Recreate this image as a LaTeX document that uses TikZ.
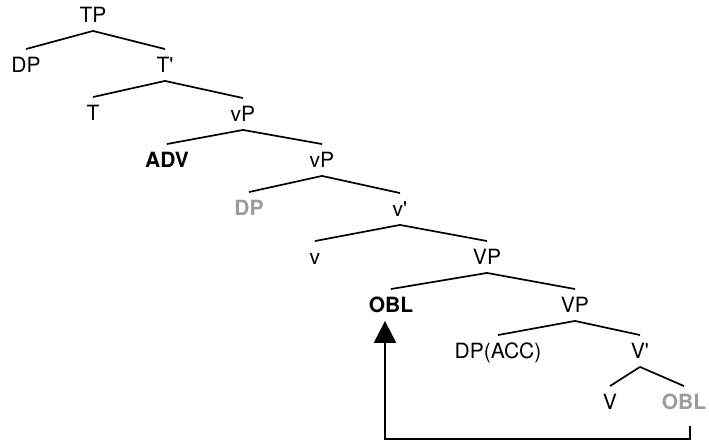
\documentclass[tikz,border=0pt]{standalone}
\usepackage{fontspec}
\setmainfont{TeX Gyre Heros}
\usetikzlibrary{arrows.meta}
\definecolor{trace}{HTML}{9C9C9C}

\begin{document}
\begin{tikzpicture}[x=0.5pt,y=-0.5pt,line width=0.85pt,
  main node/.style={font=\fontsize{10.5}{12}\selectfont,text height=7.5pt,text depth=0pt,inner sep=3.8pt},
  bold node/.style={main node,font=\fontsize{10.5}{12}\selectfont\bfseries},
  trace node/.style={bold node,text=trace}]

  \useasboundingbox (0,0) rectangle (709,442);

  \node[main node] (1) at (93,15) {TP};
  \node[main node] (2) at (26,65) {DP};
  \node[main node] (3) at (165,65) {T\textquotesingle};
  \node[main node] (4) at (93,113) {T};
  \node[main node] (5) at (243,114) {vP};
  \node[bold node] (6) at (167,160) {ADV};
  \node[main node] (7) at (322,160) {vP};
  \node[trace node] (8) at (249,208) {DP};
  \node[main node] (9) at (400,209) {v\textquotesingle};
  \node[main node] (10) at (315,257) {v};
  \node[main node] (11) at (487,257) {VP};
  \node[bold node] (12) at (391,305) {OBL};
  \node[main node] (13) at (575,305) {VP};
  \node[main node] (14) at (498,351) {DP(ACC)};
  \node[main node] (15) at (640,351) {V\textquotesingle};
  \node[main node] (16) at (610,402) {V};
  \node[trace node] (17) at (684,402) {OBL};

  \path
    (1.south) edge (2.north)
    (1.south) edge (3.north)
    (3.south) edge (4.north)
    (3.south) edge (5.north)
    (5.south) edge (6.north)
    (5.south) edge (7.north)
    (7.south) edge (8.north)
    (7.south) edge (9.north)
    (9.south) edge (10.north)
    (9.south) edge (11.north)
    (11.south) edge (12.north)
    (11.south) edge (13.north)
    (13.south) edge (14.north)
    (13.south) edge (15.north)
    (15.south) edge (16.north)
    (15.south) edge (17.north);

  \draw[line width=1.2pt,-{Triangle[length=11pt,width=11pt]}]
    ([xshift=3pt,yshift=-4pt]17.south) -- ++(0,13) -| ([xshift=-3pt]12.south);
\end{tikzpicture}
\end{document}
